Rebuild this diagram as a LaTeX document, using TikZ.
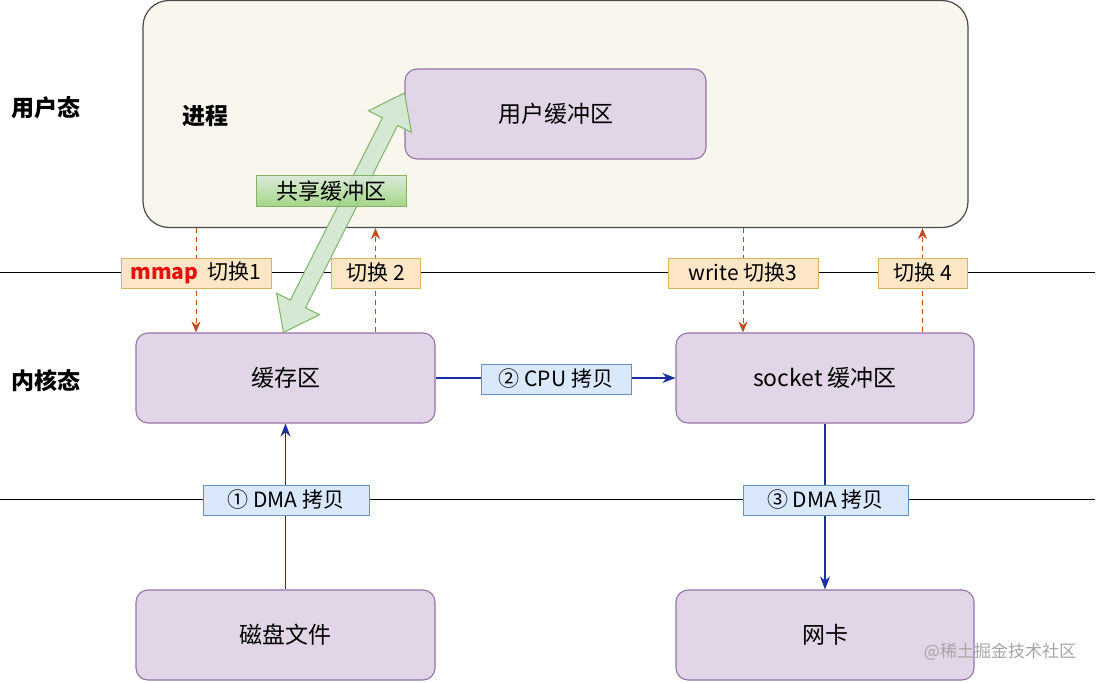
\documentclass[tikz,border=0pt]{standalone}
\usepackage{fontspec}
\setmainfont{Noto Sans CJK SC}
\usetikzlibrary{calc,arrows.meta,backgrounds}
\definecolor{procfill}{HTML}{F9F7ED}
\definecolor{procdraw}{HTML}{4A4A4A}
\definecolor{purfill}{HTML}{E1D5E7}
\definecolor{purdraw}{HTML}{9673A6}
\definecolor{orfill}{HTML}{FDE6C6}
\definecolor{ordraw}{HTML}{D6B656}
\definecolor{blfill}{HTML}{DAE8FC}
\definecolor{bldraw}{HTML}{6C8EBF}
\definecolor{grfill}{HTML}{D5E8D4}
\definecolor{grdark}{HTML}{97D077}
\definecolor{grdraw}{HTML}{82B366}
\definecolor{dashcol}{HTML}{C04B1A}
\definecolor{arrblue}{HTML}{1A2FA0}
\definecolor{mmapred}{HTML}{E8100F}
\begin{document}
\begin{tikzpicture}[x=1pt,y=-1pt,
  box/.style={draw=purdraw,fill=purfill,line width=1.1pt,rounded corners=12pt,
    minimum width=299pt,minimum height=90pt,inner sep=0pt,font=\fontsize{23}{27}\selectfont},
  oralabel/.style={draw=ordraw,fill=orfill,line width=1pt,minimum height=30pt,inner sep=0pt,
    font=\fontsize{21}{25}\selectfont},
  bllabel/.style={draw=bldraw,fill=blfill,line width=1pt,minimum height=30pt,inner sep=0pt,
    font=\fontsize{21}{25}\selectfont},
  sidelabel/.style={font=\fontsize{23}{27}\selectfont\bfseries},
  sw/.style={dashed,dash pattern=on 5pt off 4pt,draw=dashcol,line width=1pt,
    -{Stealth[length=11pt,width=9pt]}},
  bw/.style={draw=arrblue,line width=1.1pt,-{Stealth[length=13pt,width=10pt]}},
  sep/.style={draw=black,line width=1pt}]
\useasboundingbox (0,0) rectangle (1101,683);

% process box
\node[draw=procdraw,fill=procfill,line width=1.2pt,rounded corners=26pt,
  minimum width=825pt,minimum height=227pt,inner sep=0pt] (proc) at (555.5,114) {};
\node[font=\fontsize{23}{27}\selectfont\bfseries] (proclbl) at (205,116) {进程};
\node[box,minimum width=301pt] (ubuf) at (555.5,114) {用户缓冲区};

% side labels
\node[sidelabel] (ulbl) at (46,108) {用户态};
\node[sidelabel] (klbl) at (46,381) {内核态};

% kernel boxes
\node[box] (cache) at (285.5,378) {缓存区};
\node[box,minimum width=298pt] (sock) at (825,378) {socket 缓冲区};
\node[box] (disk) at (285.5,635) {磁盘文件};
\node[box,minimum width=298pt] (nic) at (825,635) {网卡};

% switch labels
\node[oralabel,minimum width=150pt] (l1) at (196,273) {\textcolor{mmapred}{\bfseries mmap}\ \ 切换1};
\node[oralabel,minimum width=89pt] (l2) at (375.5,273) {切换 2};
\node[oralabel,minimum width=150pt] (l3) at (743,273) {write 切换3};
\node[oralabel,minimum width=89pt] (l4) at (922.5,273) {切换 4};

% separator lines and dashed switch arrows, behind the labels
\coordinate (s1a) at (0,272);
\coordinate (s1b) at (1095,272);
\coordinate (s2a) at (0,499);
\coordinate (s2b) at (1095,499);
\begin{scope}[on background layer]
\fill[white] (0,0) rectangle (1101,683);
\draw[sep] (s1a) -- (s1b);
\draw[sep] (s2a) -- (s2b);
\draw[sw] (l1 |- proc.south) -- (l1 |- cache.north);
\draw[sw] (l2 |- cache.north) -- (l2 |- proc.south);
\draw[sw] (l3 |- proc.south) -- (l3 |- sock.north);
\draw[sw] (l4 |- sock.north) -- (l4 |- proc.south);
\end{scope}

% copy arrows
\draw[bw] (disk.north) -- (cache.south);
\draw[bw] (cache.east) -- (sock.west);
\draw[bw] (sock.south) -- (nic.north);
\node[bllabel,minimum width=166pt] (dma1) at (286,500) {① DMA 拷贝};
\node[bllabel,minimum width=150pt] (cpu) at (556,379) {② CPU 拷贝};
\node[bllabel,minimum width=165pt] (dma3) at (825.5,500) {③ DMA 拷贝};

% shared buffer double arrow
\coordinate (gA) at ($(cache.north)+(-2,0)$);
\coordinate (gB) at ($(ubuf.west)+(0,-21)$);
\coordinate (h1) at ($(gA)!32pt!(gB)$);
\coordinate (h2) at ($(gB)!32pt!(gA)$);
\draw[fill=grfill,draw=grdraw,line width=1pt,line join=miter]
  (gA) -- ($(h1)!24pt!90:(gB)$) -- ($(h1)!8.5pt!90:(gB)$)
  -- ($(h2)!8.5pt!-90:(gA)$) -- ($(h2)!24pt!-90:(gA)$) -- (gB)
  -- ($(h2)!24pt!90:(gA)$) -- ($(h2)!8.5pt!90:(gA)$)
  -- ($(h1)!8.5pt!-90:(gB)$) -- ($(h1)!24pt!-90:(gB)$) -- cycle;
\node[draw=grdraw,line width=1pt,top color=grfill,bottom color=grdark,fill opacity=0.85,text opacity=1,
  minimum width=150pt,minimum height=31pt,inner sep=0pt,font=\fontsize{22}{26}\selectfont]
  (share) at (331,191) {共享缓冲区};

% watermark
\node[text=black!35,font=\fontsize{17}{20}\selectfont] (wm) at (1000,652) {@稀土掘金技术社区};
\end{tikzpicture}
\end{document}
